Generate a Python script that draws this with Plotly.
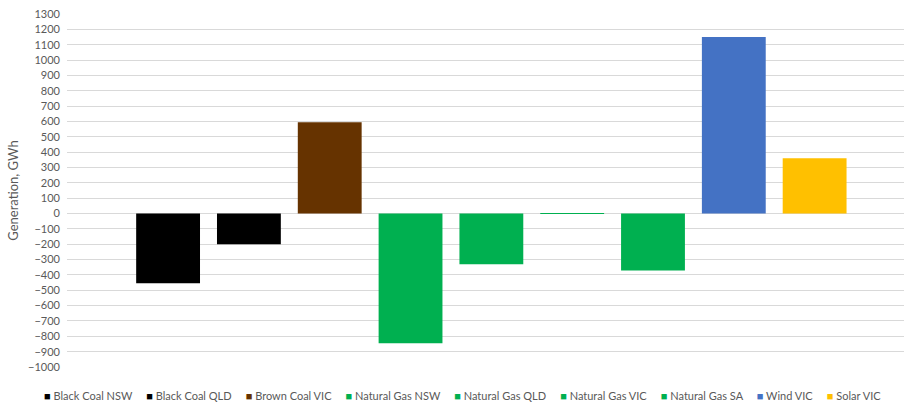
import plotly.graph_objects as go

# Change in generation by fuel type and region (GWh)
series_names = [
    "Black Coal NSW", "Black Coal QLD", "Brown Coal VIC", "Natural Gas NSW",
    "Natural Gas QLD", "Natural Gas VIC", "Natural Gas SA", "Wind VIC", "Solar VIC",
]
series_values = [-455, -200, 595, -845, -330, -3, -372, 1150, 360]
series_colors = [
    "#000000", "#000000", "#663300", "#00B050",
    "#00B050", "#00B050", "#00B050", "#4472C4", "#FFC000",
]
y_ticks = list(range(-1000, 1301, 100))

FONT = "Lato, 'Open Sans', sans-serif"
GREY = "#595959"

fig = go.Figure()
for name, value, color in zip(series_names, series_values, series_colors):
    fig.add_bar(x=[""], y=[value], name=name, marker_color=color,
                marker_line_width=0, showlegend=False)

# Legend row drawn as one line of coloured squares and labels
sep = "&nbsp;" * 5
legend_text = sep.join(
    f"<span style='color:{c}'>■</span>&nbsp;{n}"
    for n, c in zip(series_names, series_colors)
)
fig.add_annotation(text=legend_text, xref="paper", yref="paper",
                   x=0.472, y=-0.08, xanchor="center", yanchor="middle",
                   showarrow=False, font=dict(family=FONT, size=11, color=GREY))

fig.update_layout(
    width=905, height=405,
    margin=dict(l=67, r=1, t=14, b=38),
    paper_bgcolor="white", plot_bgcolor="white",
    barmode="group", bargap=0.131, bargroupgap=0.21,
    font=dict(family=FONT, size=11, color=GREY),
    xaxis=dict(range=[-0.507, 0.493], showticklabels=False, showgrid=False,
               zeroline=False, showline=False, fixedrange=True),
    yaxis=dict(range=[-1000, 1300], tickvals=y_ticks, ticks="",
               gridcolor="#d9d9d9", gridwidth=1, zeroline=False, showline=False,
               ticklabelstandoff=6,
               title=dict(text="Generation, GWh", standoff=6,
                          font=dict(family=FONT, size=13, color=GREY))),
)

fig.write_html("out.html")
